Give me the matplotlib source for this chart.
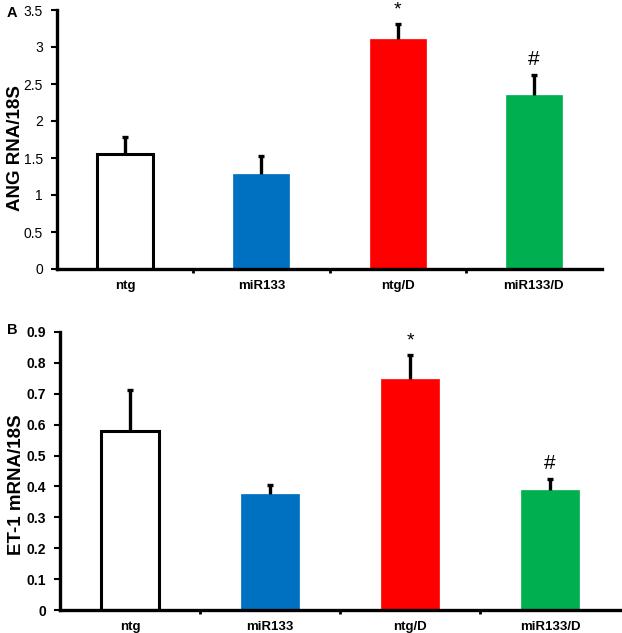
import matplotlib.pyplot as plt
import numpy as np

plt.rcParams["font.family"] = ["Liberation Sans", "DejaVu Sans"]
plt.rcParams["font.weight"] = "bold"

groups = ["ntg", "miR133", "ntg/D", "miR133/D"]
bar_colors = ["white", "#0070C0", "#FF0000", "#00B050"]
edge_colors = ["black", "#0070C0", "#FF0000", "#00B050"]

ang_mean = [1.56, 1.28, 3.11, 2.35]
ang_err = [0.22, 0.25, 0.20, 0.27]
ang_marks = ["", "", "*", "#"]

et1_mean = [0.579, 0.375, 0.747, 0.387]
et1_err = [0.133, 0.030, 0.078, 0.037]
et1_marks = ["", "", "*", "#"]

W, H = 622, 633


def _panel(ax, means, errs, marks, ymax, ystep, ylabel, letter,
           label_xy, letter_xy, tick_weight):
    x = np.arange(len(groups))
    for xi, m, e, fc, ec in zip(x, means, errs, bar_colors, edge_colors):
        lw = 2.2 if fc == "white" else 0.5
        ax.bar(xi, m, width=0.41, color=fc, edgecolor=ec, linewidth=lw, zorder=2)
        _, caps, _ = ax.errorbar(xi, m, yerr=[[0], [e]], fmt="none", ecolor="black",
                                 elinewidth=2.4, capsize=2.5, capthick=2.4, zorder=3)
        caps[0].set_visible(False)  # only the upper cap
    for xi, m, e, mk in zip(x, means, errs, marks):
        if mk:
            ax.text(xi, m + e + ymax * 0.022, mk, ha="center", va="bottom",
                    fontsize=15 if mk == "#" else 14, fontweight="normal")
    ax.set_xlim(-0.5, len(groups) - 0.5)
    ax.set_ylim(0, ymax)
    ticks = np.arange(0, ymax + 1e-9, ystep)
    ax.set_yticks(ticks)
    ax.set_yticklabels([f"{v:g}" for v in ticks], fontsize=10, fontweight=tick_weight)
    ax.set_xticks(x)
    ax.set_xticklabels(groups, fontsize=9.5, fontweight="bold")
    ax.tick_params(axis="x", length=0, pad=8)
    ax.set_xticks(np.arange(0.5, len(groups) - 0.5), minor=True)
    ax.tick_params(axis="x", which="minor", length=3, width=2, direction="out")
    ax.tick_params(axis="y", length=4, width=1.5, direction="out", pad=6)
    for s in ("top", "right"):
        ax.spines[s].set_visible(False)
    for s in ("left", "bottom"):
        ax.spines[s].set_linewidth(2.4)
    ax.set_ylabel(ylabel, fontsize=13.5, fontweight="bold")
    ax.yaxis.set_label_coords(*label_xy)
    ax.text(*letter_xy, letter, transform=ax.transAxes, fontsize=10.5,
            fontweight="bold", ha="left", va="center")


fig = plt.figure(figsize=(W / 100, H / 100), dpi=100)
ax_a = fig.add_axes([57 / W, 1 - 269 / H, (602 - 57) / W, (269 - 10) / H])
ax_b = fig.add_axes([60 / W, 1 - 610 / H, (620 - 60) / W, (610 - 332) / H])

_panel(ax_a, ang_mean, ang_err, ang_marks, 3.5, 0.5, "ANG RNA/18S", "A",
       ((24 - 57) / 545, (269 - 148) / 259), ((7 - 57) / 545, (269 - 13) / 259),
       "normal")
_panel(ax_b, et1_mean, et1_err, et1_marks, 0.9, 0.1, "ET-1 mRNA/18S", "B",
       ((25 - 60) / 560, (610 - 485) / 278), ((7 - 60) / 560, (610 - 330) / 278),
       "bold")

fig.savefig("out.png", dpi=100)
